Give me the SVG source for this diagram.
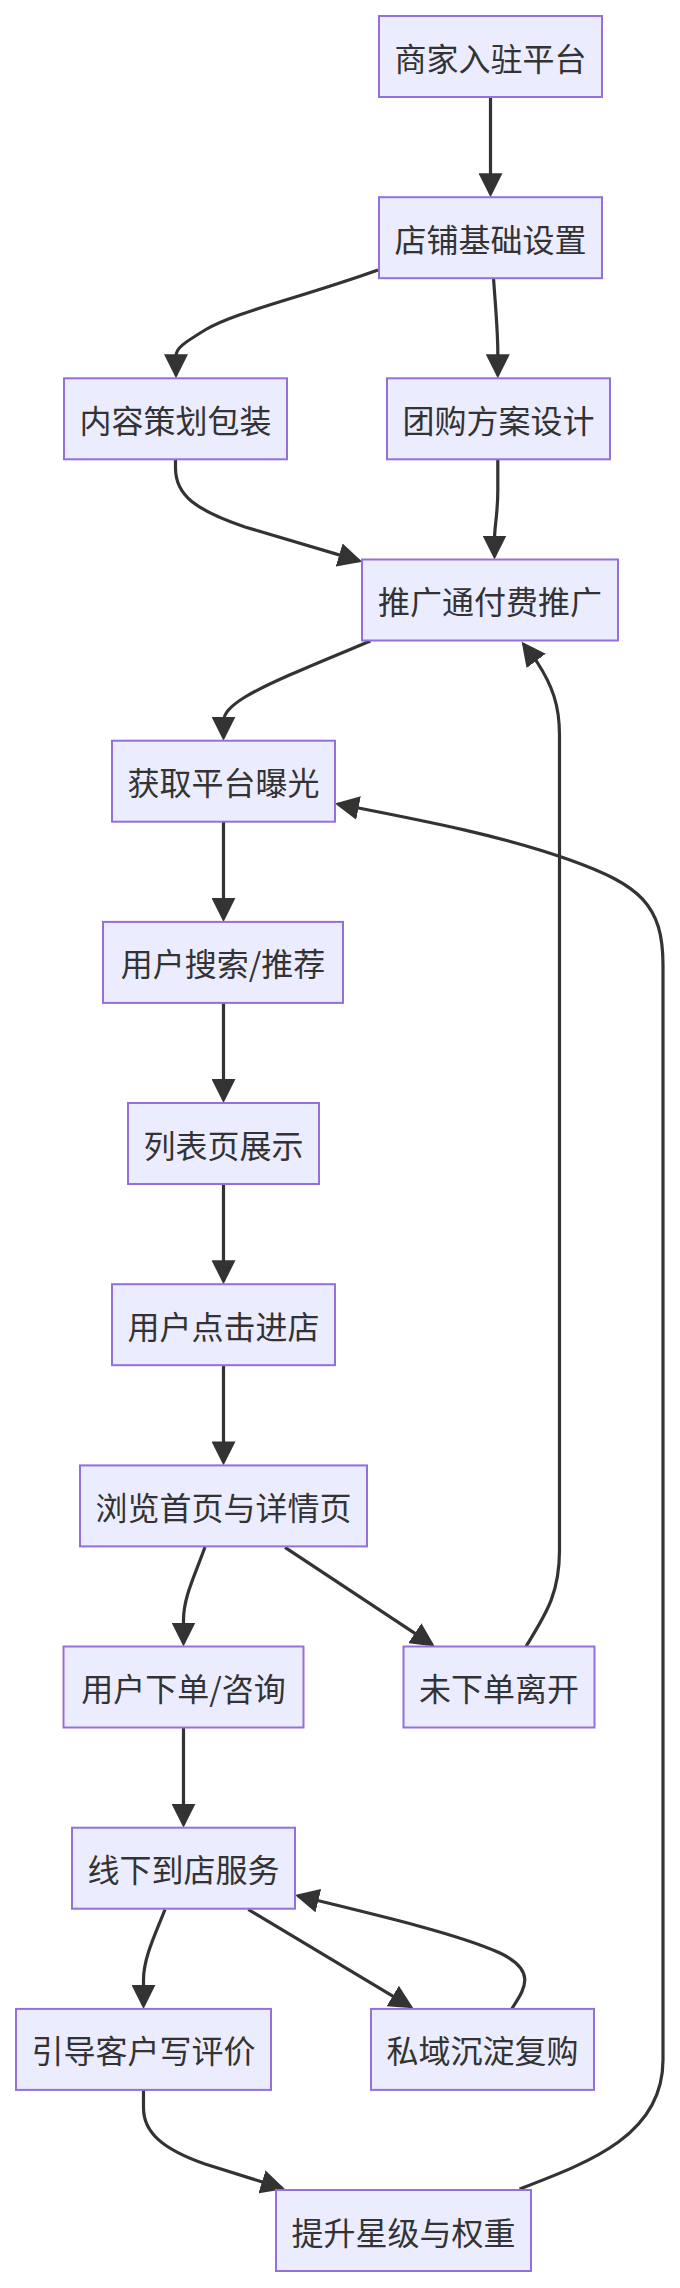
<svg xmlns="http://www.w3.org/2000/svg" width="680" height="2288" viewBox="0 0 680 2288">
<style>
.node rect{fill:#ECECFF;stroke:#9370DB;stroke-width:2}
.node text{font-family:"Noto Sans CJK SC","Noto Sans",sans-serif;font-size:32px;fill:#333;text-anchor:middle;dominant-baseline:central}
.edges path{fill:none;stroke:#333;stroke-width:3.2;marker-end:url(#arrow)}
</style>
<defs>
<marker id="arrow" viewBox="0 0 10 10" refX="8.75" refY="5" markerWidth="24" markerHeight="24" markerUnits="userSpaceOnUse" orient="auto">
<path d="M0,0 L10,5 L0,10 z" fill="#333"/>
</marker>
</defs>
<rect width="680" height="2288" fill="#fff"/>
<g class="edges" id="connectors">
<path d="M490.5,97 L490.5,194.2"/>
<path d="M378,270 C300,298 235,312 205,330 C184,343 176,348 176,356 L176,375.3"/>
<path d="M493.5,278 C495,300 497.8,330 497.8,352 L497.8,375.3"/>
<path d="M175.5,460 L175.5,468 C175.5,495 195,510 245,527 L359.3,560.9"/>
<path d="M497.8,460 L497.8,490 C497.8,515 494.5,525 494.5,540 L494.5,556.5"/>
<path d="M370.4,641 C320,662 270,682 245,697 C229,707 223.5,714 223.5,722 L223.5,737.7"/>
<path d="M223.5,822 L223.5,918.9"/>
<path d="M223.5,1003 L223.5,1100"/>
<path d="M223.5,1184 L223.5,1281.2"/>
<path d="M223.5,1365 L223.5,1462.4"/>
<path d="M205,1547 C195,1575 183.5,1597 183.5,1620 L183.5,1643.5"/>
<path d="M285,1547.3 L432.3,1644.8"/>
<path d="M526,1646.5 C545,1615 559.5,1595 559.5,1550 L559.5,735 C559.5,705 552,685 537,662 L523.5,644.1"/>
<path d="M519.6,2189 C590,2162 663,2135 663,2060 L663,965 C663,905 640,885 570,860 C500,835 420,820 337.9,804"/>
<path d="M183.5,1728 L183.5,1824.7"/>
<path d="M165,1909.5 C155,1935 143.5,1958 143.5,1980 L143.5,2005.9"/>
<path d="M248.3,1909.5 L410.7,2006.8"/>
<path d="M511.7,2009 C522,1992 540,1972 500,1953 C460,1935 390,1918 297.9,1895.8"/>
<path d="M143.5,2090 L143.5,2108 C143.5,2132 162,2149 205,2164 L282,2188.1"/>
</g>
<g class="node" id="n1"><rect x="379" y="16" width="223" height="81"/><text x="490.5" y="56.5">商家入驻平台</text></g>
<g class="node" id="n2"><rect x="379" y="197.2" width="223" height="81"/><text x="490.5" y="237.7">店铺基础设置</text></g>
<g class="node" id="n3"><rect x="64" y="378.3" width="223" height="81"/><text x="175.5" y="418.8">内容策划包装</text></g>
<g class="node" id="n4"><rect x="387" y="378.3" width="223" height="81"/><text x="498.5" y="418.8">团购方案设计</text></g>
<g class="node" id="n5"><rect x="362" y="559.5" width="256" height="81"/><text x="490" y="600">推广通付费推广</text></g>
<g class="node" id="n6"><rect x="112" y="740.7" width="223" height="81"/><text x="223.5" y="781.2">获取平台曝光</text></g>
<g class="node" id="n7"><rect x="103" y="921.9" width="240" height="81"/><text x="223" y="962.4">用户搜索/推荐</text></g>
<g class="node" id="n8"><rect x="128" y="1103" width="191" height="81"/><text x="223.5" y="1143.5">列表页展示</text></g>
<g class="node" id="n9"><rect x="112" y="1284.2" width="223" height="81"/><text x="223.5" y="1324.7">用户点击进店</text></g>
<g class="node" id="n10"><rect x="80" y="1465.4" width="287" height="81"/><text x="223.5" y="1505.9">浏览首页与详情页</text></g>
<g class="node" id="n11"><rect x="63.5" y="1646.5" width="240" height="81"/><text x="183.5" y="1687">用户下单/咨询</text></g>
<g class="node" id="n12"><rect x="403.5" y="1646.5" width="191" height="81"/><text x="499" y="1687">未下单离开</text></g>
<g class="node" id="n13"><rect x="72" y="1827.7" width="223" height="81"/><text x="183.5" y="1868.2">线下到店服务</text></g>
<g class="node" id="n14"><rect x="16" y="2008.9" width="255" height="81"/><text x="143.5" y="2049.4">引导客户写评价</text></g>
<g class="node" id="n15"><rect x="371" y="2008.9" width="223" height="81"/><text x="482.5" y="2049.4">私域沉淀复购</text></g>
<g class="node" id="n16"><rect x="276" y="2190" width="255" height="81"/><text x="403.5" y="2230.5">提升星级与权重</text></g>
</svg>
